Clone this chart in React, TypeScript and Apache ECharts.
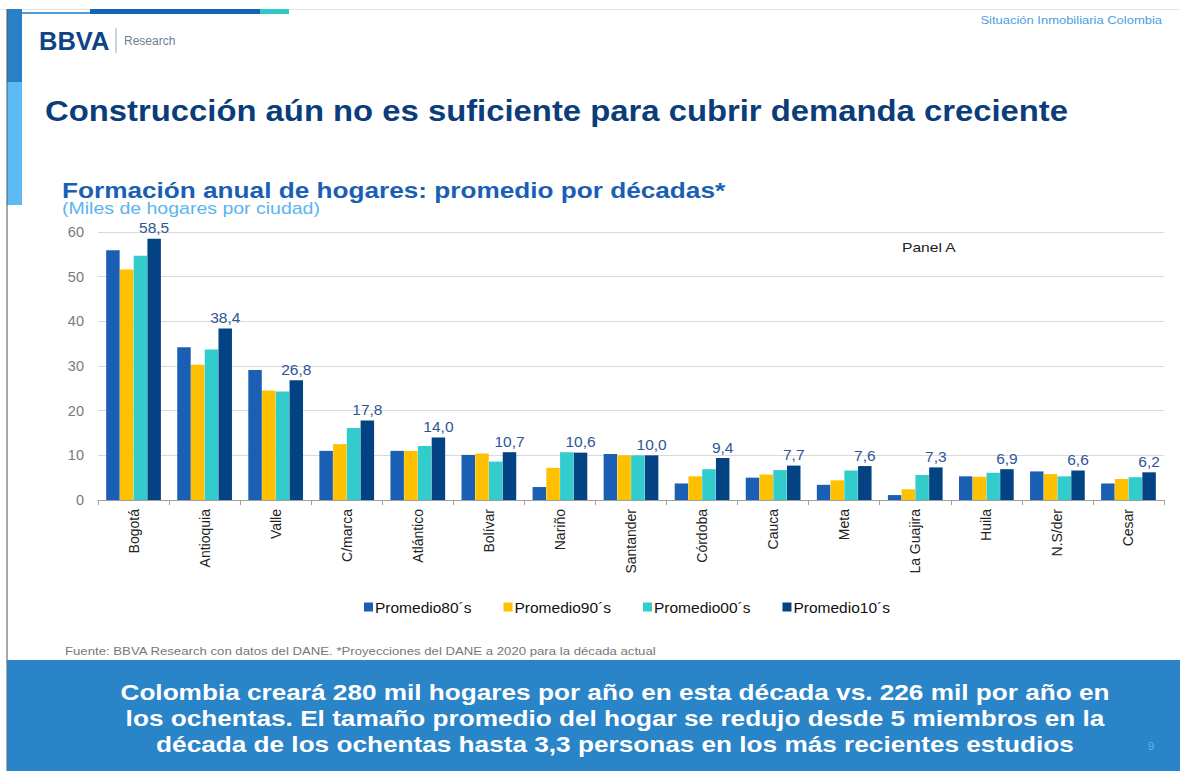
import React, { useEffect, useRef } from "react";
import * as echarts from "echarts";

const categories = ["Bogotá", "Antioquia", "Valle", "C/marca", "Atlántico", "Bolívar", "Nariño", "Santander", "Córdoba", "Cauca", "Meta", "La Guajira", "Huila", "N.S/der", "Cesar"];
const seriesNames = ["Promedio80´s", "Promedio90´s", "Promedio00´s", "Promedio10´s"];
const prom80 = [55.9, 34.2, 29.1, 11.0, 11.0, 10.1, 2.9, 10.3, 3.7, 5.0, 3.4, 1.1, 5.3, 6.4, 3.7];
const prom90 = [51.6, 30.3, 24.5, 12.5, 11.0, 10.4, 7.2, 10.0, 5.3, 5.7, 4.4, 2.4, 5.2, 5.8, 4.7];
const prom00 = [54.7, 33.7, 24.3, 16.1, 12.1, 8.6, 10.7, 10.0, 6.9, 6.7, 6.6, 5.6, 6.1, 5.3, 5.1];
const prom10 = [58.5, 38.4, 26.8, 17.8, 14.0, 10.7, 10.6, 10.0, 9.4, 7.7, 7.6, 7.3, 6.9, 6.6, 6.2];
const colors = ["#1a5fb4", "#ffc000", "#33cccc", "#034283"];
const yTicks = { min: 0, max: 60, interval: 10 };

const FONT = "'Liberation Sans', Arial, sans-serif";

export default function App() {
  const ref = useRef<HTMLDivElement>(null);
  useEffect(() => {
    document.body.style.margin = "0";
    const chart = echarts.init(ref.current!, null, { renderer: "svg" });
    const data = [prom80, prom90, prom00, prom10];
    chart.setOption({
      animation: false,
      backgroundColor: "#ffffff",
      textStyle: { fontFamily: FONT },
      color: colors,
      grid: { left: 98, right: 16, top: 232, bottom: 271 },
      legend: {
        data: seriesNames,
        top: 594,
        left: 359,
        icon: "rect",
        itemWidth: 9,
        itemHeight: 9,
        itemGap: 32,
        textStyle: { fontSize: 15.5, color: "#111", fontFamily: FONT, padding: [0, 0, 0, -3] },
      },
      xAxis: {
        type: "category",
        data: categories,
        axisLine: { lineStyle: { color: "#a0a0a0" } },
        axisTick: { show: true, length: 5, lineStyle: { color: "#a0a0a0" } },
        axisLabel: { rotate: 90, margin: 9, fontSize: 14, color: "#222", fontFamily: FONT },
      },
      yAxis: {
        type: "value",
        min: yTicks.min,
        max: yTicks.max,
        interval: yTicks.interval,
        axisLine: { show: false },
        axisTick: { show: false },
        axisLabel: { fontSize: 14.5, color: "#7a7a7a", margin: 14, fontFamily: FONT },
        splitLine: { lineStyle: { color: "#d9d9d9" } },
      },
      series: data.map((d, i) => ({
        name: seriesNames[i],
        type: "bar",
        data: d,
        barGap: "2%",
        barCategoryGap: "23%",
        label:
          i === 3
            ? {
                show: true,
                position: "top",
                distance: 3,
                fontSize: 15.5,
                color: "#2f5597",
                fontFamily: FONT,
                formatter: (p: any) => Number(p.value).toFixed(1).replace(".", ","),
              }
            : { show: false },
      })),
      graphic: [
        { type: "line", shape: { x1: 0, y1: 9.5, x2: 1180, y2: 9.5 }, style: { stroke: "#e6e6e6", lineWidth: 1 } },
        { type: "rect", shape: { x: 7, y: 9, width: 15, height: 73 }, style: { fill: "#2a80c8" } },
        { type: "rect", shape: { x: 7, y: 82, width: 15, height: 123 }, style: { fill: "#5cbaf5" } },
        { type: "line", shape: { x1: 7, y1: 9, x2: 7, y2: 771 }, style: { stroke: "#555", lineWidth: 1 } },
        { type: "rect", shape: { x: 22, y: 12, width: 68, height: 2 }, style: { fill: "#4a9ee0" } },
        { type: "rect", shape: { x: 90, y: 9, width: 170, height: 5 }, style: { fill: "#1464b4" } },
        { type: "rect", shape: { x: 260, y: 9, width: 29, height: 5 }, style: { fill: "#2ec8c8" } },
        { type: "text", x: 39, y: 29, scaleX: 1.02, style: { text: "BBVA", font: `bold 25px ${FONT}`, fill: "#0d4485" } },
        { type: "line", shape: { x1: 116, y1: 28, x2: 116, y2: 53 }, style: { stroke: "#9ab", lineWidth: 1 } },
        { type: "text", x: 124, y: 35, style: { text: "Research", font: `12px ${FONT}`, fill: "#6a7f95" } },
        { type: "text", x: 1162, y: 15, scaleX: 1.18, style: { text: "Situación Inmobiliaria Colombia", font: `11px ${FONT}`, fill: "#4a9ee0", align: "right" } },
        { type: "text", x: 45, y: 96, scaleX: 1.094, style: { text: "Construcción aún no es suficiente para cubrir demanda creciente", font: `bold 30px ${FONT}`, fill: "#0b3d7a" } },
        { type: "text", x: 62, y: 179, scaleX: 1.19, style: { text: "Formación anual de hogares: promedio por décadas*", font: `bold 22px ${FONT}`, fill: "#1a5fb4" } },
        { type: "text", x: 62, y: 201, scaleX: 1.22, style: { text: "(Miles de hogares por ciudad)", font: `16px ${FONT}`, fill: "#5ab4f0" } },
        { type: "text", x: 902, y: 241, scaleX: 1.2, style: { text: "Panel A", font: `13px ${FONT}`, fill: "#222" } },
        { type: "text", x: 65, y: 646, scaleX: 1.2, style: { text: "Fuente: BBVA Research con datos del DANE. *Proyecciones del DANE a 2020 para la década actual", font: `11px ${FONT}`, fill: "#777" } },
        { type: "rect", shape: { x: 7, y: 660, width: 1173, height: 111 }, style: { fill: "#2a84c8" } },
        { type: "text", x: 615, y: 681, scaleX: 1.19, style: { text: "Colombia creará 280 mil hogares por año en esta década vs. 226 mil por año en", font: `bold 22px ${FONT}`, fill: "#ffffff", align: "center" } },
        { type: "text", x: 615, y: 707, scaleX: 1.19, style: { text: "los ochentas. El tamaño promedio del hogar se redujo desde 5 miembros en la", font: `bold 22px ${FONT}`, fill: "#ffffff", align: "center" } },
        { type: "text", x: 615, y: 733, scaleX: 1.19, style: { text: "década de los ochentas hasta 3,3 personas en los más recientes estudios", font: `bold 22px ${FONT}`, fill: "#ffffff", align: "center" } },
        { type: "text", x: 1148, y: 740, style: { text: "9", font: `11px ${FONT}`, fill: "#5cb8f0" } },
      ],
    });
    return () => chart.dispose();
  }, []);
  return <div ref={ref} style={{ width: 1180, height: 771 }} />;
}
